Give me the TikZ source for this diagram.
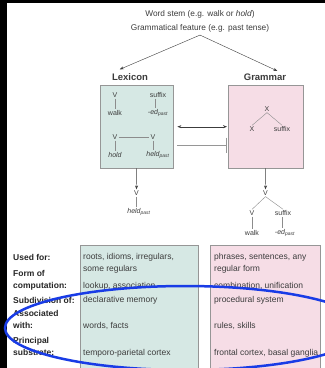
\documentclass[tikz,border=0pt]{standalone}
\usepackage{fontspec}
\setmainfont{Liberation Sans}
\usetikzlibrary{arrows.meta, positioning}
\definecolor{lexteal}{RGB}{214, 232, 228}
\definecolor{grampink}{RGB}{246, 221, 230}
\definecolor{framegrey}{RGB}{150, 150, 150}
\definecolor{inkgrey}{RGB}{60, 60, 60}
\definecolor{ringblue}{RGB}{25, 60, 230}
\colorlet{treegrey}{black!45!white}
\tikzset{word/.style={inner sep=1pt, text=inkgrey, font=\fontsize{7}{8}\selectfont}}
\tikzset{headword/.style={inner sep=1pt, text=inkgrey, font=\fontsize{9.5}{11}\selectfont\bfseries}}
\tikzset{rowlabel/.style={anchor=west, inner sep=0pt, align=left, text=black!85, font=\fontsize{8.5}{12.5}\selectfont\bfseries}}
\tikzset{cell/.style={anchor=west, inner sep=0pt, align=left, text=inkgrey, font=\fontsize{8.5}{12}\selectfont}}
\tikzset{lexpanel/.style={draw=framegrey, fill=lexteal, inner sep=0pt, anchor=north west}}
\tikzset{grampanel/.style={draw=framegrey, fill=grampink, inner sep=0pt, anchor=north west}}
\tikzset{branch/.style={color=treegrey, thin}}
\tikzset{feed/.style={color=inkgrey, -{Stealth[length=4pt, width=3pt]}}}
\tikzset{link/.style={color=inkgrey, {Stealth[length=4pt, width=3pt]}-{Stealth[length=4pt, width=3pt]}}}
\tikzset{block/.style={color=framegrey, -{Bar[width=15pt, line width=0.8pt]}}}
\newcommand{\pastsub}{\textsubscript{\itshape past}}

\begin{document}
\begin{tikzpicture}[x=1pt, y=-1pt]
            \useasboundingbox (0, 0) rectangle (325, 368);
            \clip (0, 0) rectangle (325, 368);
            \fill [white] (0, 0) rectangle (325, 368);
            \fill [black] (0, 0) rectangle (7, 368);
            \fill [black] (0, 0) rectangle (325, 3);

            \node [word, font=\fontsize{8.3}{14}\selectfont, align=center] (Stem) at (200, 21) { Word stem (e.g. walk or \textit{hold})\\Grammatical feature (e.g. past tense) };

            \node [headword] (LexHead) at (130, 77) { Lexicon };
            \node [headword] (GramHead) at (265, 77) { Grammar };

            \draw [feed] ([yshift=-2pt]Stem.south) -- ([xshift=9pt, yshift=3pt]LexHead.north west);
            \draw [feed] ([yshift=-2pt]Stem.south) -- ([xshift=-10pt, yshift=1.5pt]GramHead.north east);

            \node [lexpanel, minimum width=73pt, minimum height=83pt] (Lex) at (100, 85) { };
            \node [grampanel, minimum width=75pt, minimum height=83pt] (Gram) at (228, 85) { };

            \draw [link] ([xshift=4pt]Lex.east) -- ([xshift=-1pt]Gram.west);
            \draw [block] ([xshift=4pt, yshift=-18.5pt]Lex.east) -- ([xshift=-1pt, yshift=-18.5pt]Gram.west);

            % lexicon entries
            \node [word] (LexV) at (115, 95) { V };
            \node [word] (LexWalk) at (115, 113) { walk };
            \node [word] (LexSuffix) at (158, 95) { suffix };
            \node [word] (LexEd) at (158, 113) { \itshape -ed\pastsub };
            \node [word] (HoldV) at (115, 137) { V };
            \node [word] (HeldV) at (153, 137) { V };
            \node [word] (LexHold) at (115, 155) { \itshape hold };
            \node [word] (LexHeld) at (158, 155) { \itshape held\pastsub };

            \draw [branch] (LexV) -- (LexWalk);
            \draw [branch] ([xshift=-3pt]LexSuffix.south) -- ([xshift=-3pt]LexSuffix.south |- LexEd.north);
            \draw [branch] (HoldV) -- (HeldV);
            \draw [branch] (HoldV) -- (LexHold);
            \draw [branch] (HeldV.south) -- (HeldV.south |- LexHeld.north);

            % grammar rule
            \node [word] (GramX) at (267, 109) { X };
            \node [word] (GramX2) at (252, 129) { X };
            \node [word] (GramSuffix) at (282, 129) { suffix };

            \draw [branch] (GramX.south) -- (GramX2.north);
            \draw [branch] (GramX.south) -- (GramSuffix.north);

            % outputs
            \node [word] (LexOutV) at (136.5, 193) { V };
            \node [word] (LexOutHeld) at (139, 212) { \itshape held\pastsub };
            \draw [feed] (Lex.south) -- (LexOutV.north);
            \draw [branch] (LexOutV.south) -- (LexOutV.south |- LexOutHeld.north);

            \node [word] (GramOutV) at (265.5, 193) { V };
            \node [word] (GramOutV2) at (252, 213) { V };
            \node [word] (GramOutSuffix) at (283, 213) { suffix };
            \node [word] (GramOutWalk) at (252, 233) { walk };
            \node [word] (GramOutEd) at (285, 233) { \itshape -ed\pastsub };
            \draw [feed] (Gram.south) -- (GramOutV.north);
            \draw [branch] (GramOutV.south) -- (GramOutV2.north);
            \draw [branch] (GramOutV.south) -- (GramOutSuffix.north);
            \draw [branch] (GramOutV2) -- (GramOutWalk);
            \draw [branch] ([xshift=-1pt]GramOutSuffix.south) -- ([xshift=-1pt]GramOutSuffix.south |- GramOutEd.north);

            % comparison table
            \node [lexpanel, minimum width=118pt, minimum height=130pt] (LexTab) at (80, 245) { };
            \node [grampanel, minimum width=110pt, minimum height=130pt] (GramTab) at (210, 245) { };

            \node [rowlabel] (UsedFor) at (13, 257) { Used for: };
            \node [rowlabel] (FormOf) at (13, 280.5) { Form of\\computation: };
            \node [rowlabel] (SubOf) at (13, 300) { Subdivision of: };
            \node [rowlabel] (AssocWith) at (13, 319.5) { Associated\\with: };
            \node [rowlabel] (Substrate) at (13, 346.5) { Principal\\substrate: };

            \node [cell] (UsedLex) at (83, 263) { roots, idioms, irregulars,\\some regulars };
            \node [cell] (FormLex) at (83, 286) { lookup, association };
            \node [cell] (SubLex) at (83, 300) { declarative memory };
            \node [cell] (AssocLex) at (83, 326) { words, facts };
            \node [cell] (SubstrateLex) at (83, 353) { temporo-parietal cortex };

            \node [cell] (UsedGram) at (214, 263) { phrases, sentences, any\\regular form };
            \node [cell] (FormGram) at (214, 286) { combination, unification };
            \node [cell] (SubGram) at (214, 300) { procedural system };
            \node [cell] (AssocGram) at (214, 326) { rules, skills };
            \node [cell] (SubstrateGram) at (214, 353) { frontal cortex, basal ganglia };

            \draw [ringblue, line width=2.5pt] (185, 328) ellipse [x radius=180pt, y radius=42pt];
        \end{tikzpicture}
\end{document}
